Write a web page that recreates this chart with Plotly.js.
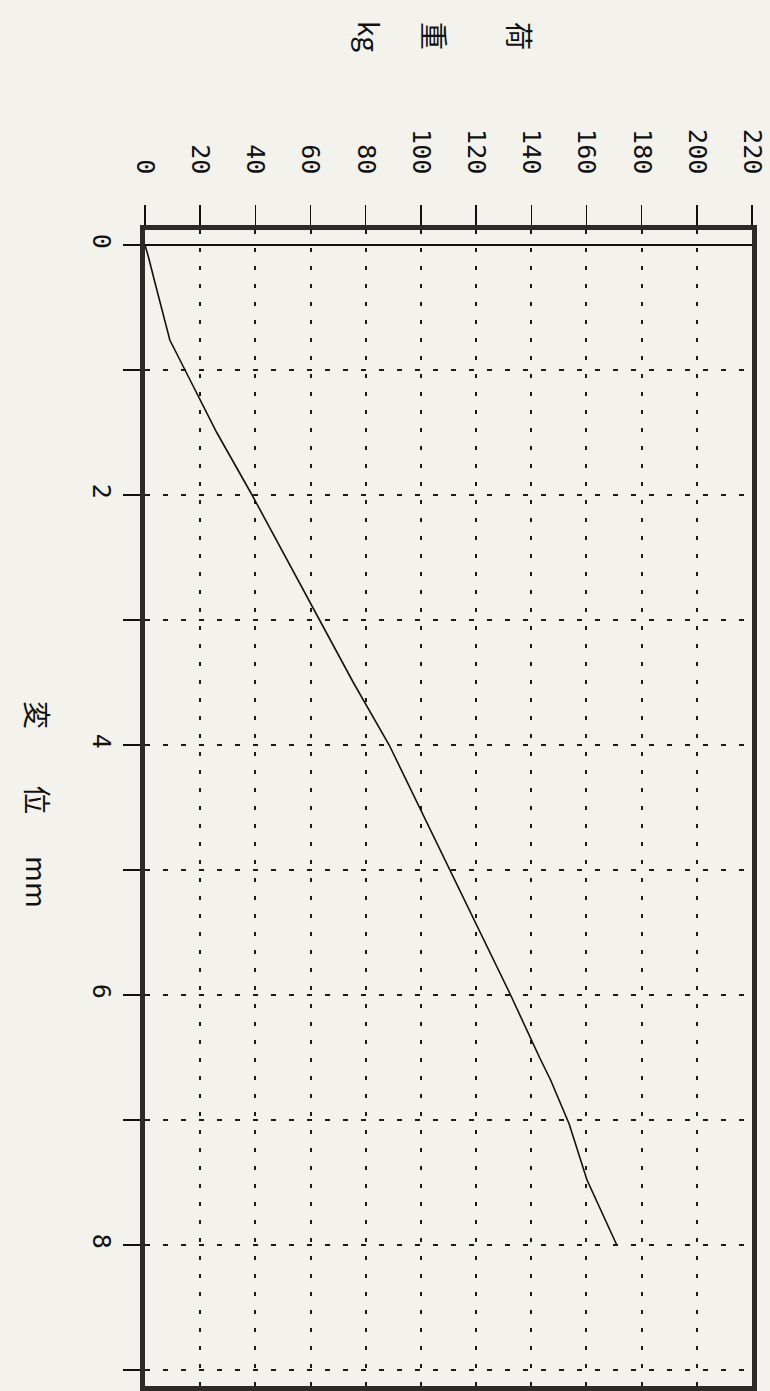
<!DOCTYPE html>
<html>
<head>
<meta charset="utf-8">
<script src="https://cdn.plot.ly/plotly-3.0.1.min.js"></script>
<style>
html,body{margin:0;padding:0;background:#f4f2ec;}
#chart{width:770px;height:1391px;}
</style>
</head>
<body>
<div id="chart"></div>
<script>
// Displacement (mm) and load (kg)
const displacementMm = [0, 0.1, 0.3, 0.5, 0.76, 1.0, 1.24, 1.5, 2.0, 2.5, 3.0, 3.5, 4.0, 4.5, 5.0, 5.5, 6.0, 6.5, 6.68, 7.03, 7.48, 8.0];
const loadKg         = [0, 1.3, 3.6, 6, 9, 14.5, 20, 26, 38.8, 51, 63, 75.5, 88.5, 99.5, 110.5, 121.5, 132.5, 143, 147, 153.7, 160.2, 171];
const loadTicks = [0, 20, 40, 60, 80, 100, 120, 140, 160, 180, 200, 220];
const dispTicks = [0, 1, 2, 3, 4, 5, 6, 7, 8, 9];
const dispTickText = ["0", "", "2", "", "4", "", "6", "", "8", ""];

const W = 770, H = 1391;
const M = {l: 145, r: 18, t: 230, b: 5};
const PW = W - M.l - M.r, PH = H - M.t - M.b;
function px(x){ return (x - M.l) / PW; }
function py(y){ return (H - M.b - y) / PH; }

const tickFont = {family: 'DejaVu Sans Mono, Liberation Mono, monospace', size: 25, color: '#111'};
const titleFont = {family: 'Noto Sans CJK JP, Noto Sans, sans-serif', size: 28, color: '#111'};

const trace = {
  type: 'scatter', mode: 'lines',
  x: loadKg, y: displacementMm,
  line: {color: '#111', width: 1.6},
  hoverinfo: 'skip', showlegend: false
};

function ann(text, x, y){
  return {text: text, x: px(x), y: py(y), xref: 'paper', yref: 'paper',
          showarrow: false, textangle: 90, font: titleFont,
          xanchor: 'center', yanchor: 'middle'};
}

const layout = {
  width: W, height: H,
  margin: M,
  paper_bgcolor: '#f4f2ec', plot_bgcolor: '#f4f2ec',
  showlegend: false,
  xaxis: {
    side: 'top', range: [0, 220],
    tickvals: loadTicks, ticktext: loadTicks.map(String),
    tickangle: 90, tickfont: tickFont, ticklabelstandoff: 22,
    ticks: 'outside', ticklen: 20, tickwidth: 1.5, tickcolor: '#111',
    showline: true, linewidth: 5, linecolor: '#2a2a2a', mirror: true,
    showgrid: true, gridcolor: '#1a1a1a', gridwidth: 2, griddash: '4px,14px',
    zeroline: false, fixedrange: true
  },
  yaxis: {
    range: [9.128, -0.12],
    tickvals: dispTicks, ticktext: dispTickText,
    tickangle: 90, tickfont: tickFont, ticklabelstandoff: 0,
    ticks: 'outside', ticklen: 17, tickwidth: 2, tickcolor: '#111',
    showline: true, linewidth: 5, linecolor: '#2a2a2a', mirror: true,
    showgrid: true, gridcolor: '#1a1a1a', gridwidth: 2, griddash: '5px,13px',
    zeroline: true, zerolinecolor: '#111', zerolinewidth: 1.5,
    fixedrange: true
  },
  annotations: [
    ann('荷', 520, 36), ann('重', 435, 36), ann('kg', 370, 36),
    ann('変', 38, 715), ann('位', 38, 800), ann('mm', 38, 882)
  ]
};

Plotly.newPlot('chart', [trace], layout, {staticPlot: true, displayModeBar: false});
</script>
</body>
</html>
